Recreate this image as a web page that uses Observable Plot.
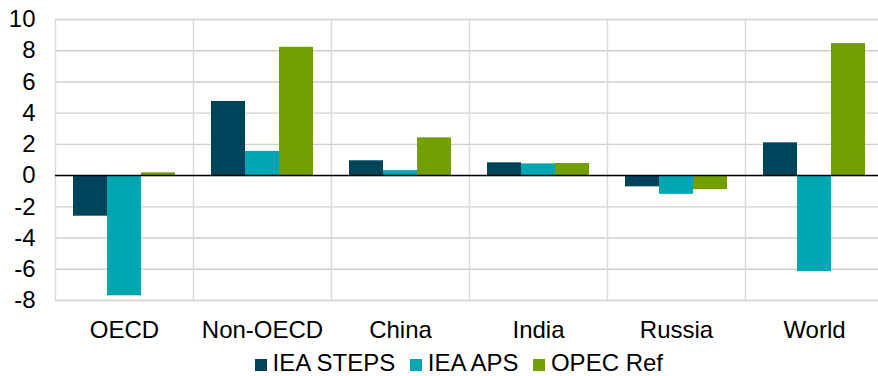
<!DOCTYPE html>
<html>
<head>
<meta charset="utf-8">
<script src="https://cdn.jsdelivr.net/npm/d3@7"></script>
<script src="https://cdn.jsdelivr.net/npm/@observablehq/plot@0.6"></script>
<style>
  html, body { margin: 0; padding: 0; background: #fff; overflow: hidden; }
  #wrap { position: relative; width: 878px; height: 376px; overflow: hidden; }
  #chart { width: 884px; }
  #chart svg { max-width: none !important; }
  #legend { position: absolute; top: 351px; left: 255px; display: flex; align-items: center;
    font-family: "Liberation Sans", Arial, sans-serif; font-size: 24px; line-height: 24px; color: #000; white-space: nowrap; }
  .item { display: flex; align-items: center; margin-right: 15px; }
  .sw { width: 11.5px; height: 11.5px; margin-right: 6px; position: relative; top: 2px; }
</style>
</head>
<body>
<div id="wrap"><div id="chart"></div><div id="legend"></div></div>
<script>
const categories = ["OECD", "Non-OECD", "China", "India", "Russia", "World"];
const seriesNames = ["IEA STEPS", "IEA APS", "OPEC Ref"];
const steps = [-2.6, 4.75, 0.95, 0.82, -0.72, 2.1];
const aps = [-7.7, 1.55, 0.32, 0.75, -1.2, -6.15];
const opec = [0.18, 8.22, 2.42, 0.78, -0.9, 8.46];
const yTicks = [-8, -6, -4, -2, 0, 2, 4, 6, 8, 10];
const colors = ["#00445c", "#00a6b0", "#72a000"];

const seriesValues = [steps, aps, opec];
const data = [];
categories.forEach((c, i) => {
  seriesNames.forEach((s, j) => data.push({category: c, series: s, value: seriesValues[j][i]}));
});

const font = "Liberation Sans, Arial, sans-serif";
const chart = Plot.plot({
  width: 884,
  height: 345,
  marginTop: 19,
  marginBottom: 45,
  marginLeft: 53,
  marginRight: 0,
  style: {fontFamily: font, fontSize: "24px", color: "#000", background: "#fff", overflow: "visible", maxWidth: "none"},
  fx: {domain: categories, padding: 0, label: null, axis: "bottom", tickSize: 0, tickPadding: 20},
  x: {domain: seriesNames, paddingInner: 0, paddingOuter: 0.5, axis: null},
  y: {domain: [-8, 10], ticks: yTicks, label: null, tickSize: 0, tickPadding: 20, tickFormat: d => String(d)},
  color: {domain: seriesNames, range: colors},
  marks: [
    Plot.gridY(yTicks, {stroke: "#d0d0d0", strokeOpacity: 1, strokeWidth: 1.4}),
    Plot.frame({anchor: "left", stroke: "#d9d9d9", strokeWidth: 1.4}),
    Plot.barY(data, {fx: "category", x: "series", y: "value", fill: "series", insetLeft: 0, insetRight: 0}),
    Plot.ruleY([0], {stroke: "#000", strokeWidth: 1.5})
  ]
});
document.getElementById("chart").appendChild(chart);

const legend = document.getElementById("legend");
seriesNames.forEach((s, i) => {
  const it = document.createElement("div");
  it.className = "item";
  const sw = document.createElement("span");
  sw.className = "sw";
  sw.style.background = colors[i];
  const t = document.createElement("span");
  t.textContent = s;
  it.appendChild(sw); it.appendChild(t);
  legend.appendChild(it);
});
</script>
</body>
</html>
